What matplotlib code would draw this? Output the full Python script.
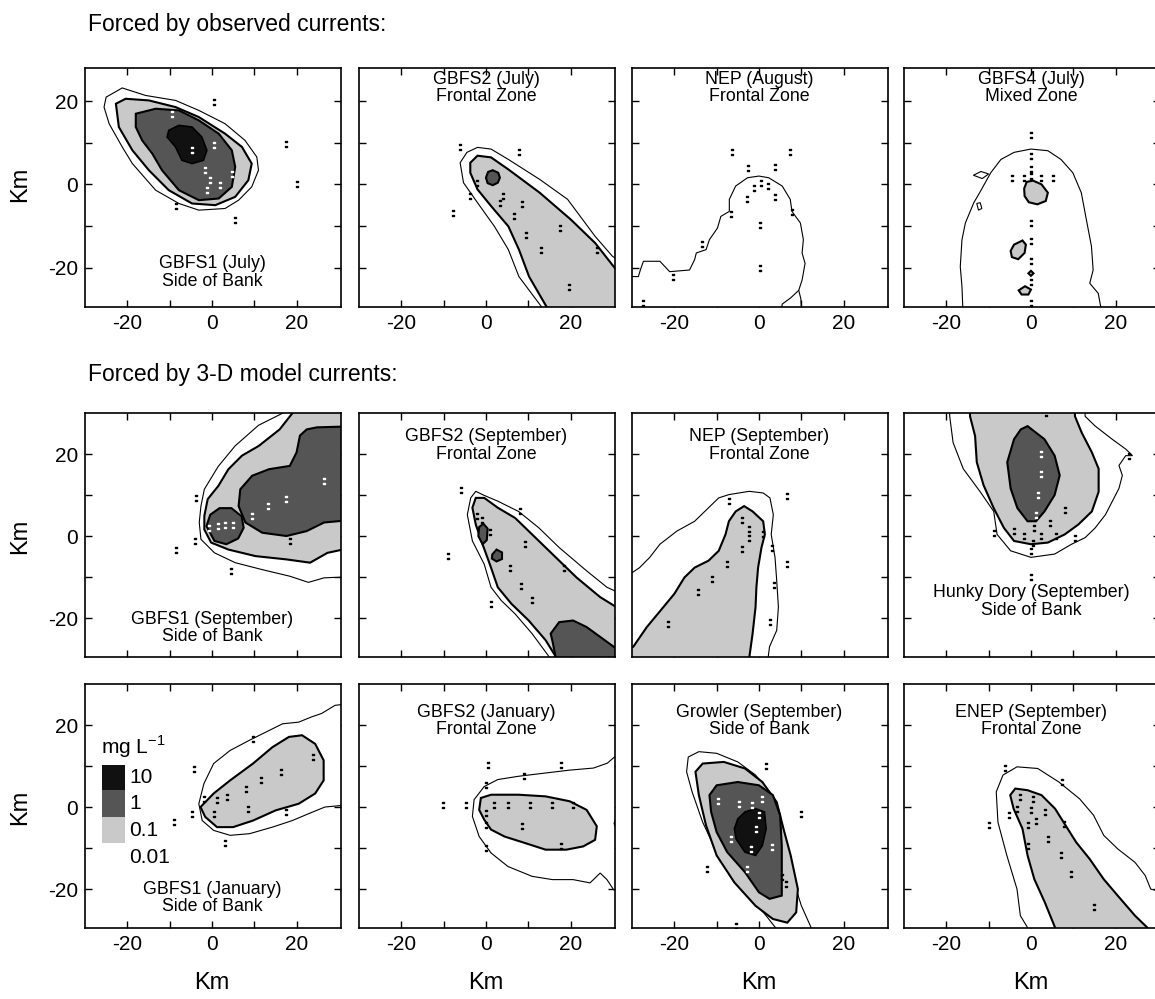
import matplotlib.pyplot as plt
from matplotlib.patches import Rectangle

plt.rcParams['font.family'] = ['Liberation Sans', 'DejaVu Sans']
plt.rcParams['mathtext.fontset'] = 'custom'
plt.rcParams['mathtext.rm'] = 'Liberation Sans'

# contour outlines, km from the release site
# levels: 0.01, 0.1, 1, 10 mg/L

# --- forced by observed currents ---
gbfs1_jul_001 = [[(-25, 21), (-21.2, 23.2), (-15.7, 21.4), (-8.6, 20.2), (-3.1, 17.8), (3.1, 14.6), (7.8, 10.6),
                  (10.6, 6.6), (11, 3.4), (9.4, -0.6), (6.3, -3.8), (3.1, -5.8), (-3.1, -6.2), (-7.8, -4.6),
                  (-13.3, -1.4), (-18.8, 5), (-21.2, 9), (-24.3, 14.6), (-25.5, 18.6)]]
gbfs1_jul_01 = [[(-22.7, 19.4), (-20.4, 20.6), (-14.9, 20.2), (-8.6, 18.6), (-3.1, 16.2), (3.1, 12.2), (7.1, 9),
                 (9.4, 5), (8.6, 1), (5.5, -3), (0.8, -5), (-4.7, -4.6), (-10.2, -1.4), (-14.9, 3.4),
                 (-18.8, 8.2), (-22, 13.8)]]
gbfs1_jul_1 = [[(-18, 17), (-13.3, 18.2), (-7.8, 17.8), (-3.1, 15.4), (1.6, 12.2), (4.7, 8.2), (5.5, 4.2),
                (4.7, -0.6), (1.6, -3.4), (-3.1, -3.8), (-7.8, -1.4), (-11.8, 3.4), (-14.1, 7.4), (-16.5, 10.6),
                (-18, 13.8)]]
gbfs1_jul_10 = [[(-10.2, 13), (-7.8, 14.2), (-4.7, 13.8), (-2.4, 11.4), (-1.2, 8.2), (-2, 5.8), (-4.7, 5),
                 (-7.1, 5.8), (-8.6, 9), (-10.6, 11.4)]]
gbfs1_jul_st = [(0.4, 19.8), (17.4, 9.8), (20.2, 0.2), (5.5, -8.6), (-8.5, -5.3)]
gbfs1_jul_stw = [(-9.4, 17), (-4.7, 8.2), (0.4, 9.4), (-1.6, 3.4), (-0.4, 1), (2, -0.2), (-1.2, -1.4), (4.7, 2.6)]

gbfs2_jul_001 = [[(13.1, -35), (13.1, -29.4), (7.8, -22.2), (5.3, -15.7), (2, -10.1), (-2, -4.4), (-5.3, 0.4),
                  (-6.1, 5.2), (-4.5, 7.7), (-2, 8.9), (1.2, 8.5), (5.3, 6), (12.7, 1.2), (19.3, -3.6),
                  (25.8, -12.5), (29.9, -17.3), (35, -20.6), (35, -35)]]
gbfs2_jul_01 = [[(14.3, -35), (14.3, -29.4), (10.2, -22.2), (7.8, -15.7), (5.3, -10.1), (1.2, -5.2), (-2, -1.2),
                 (-3.7, 2.8), (-3.7, 5.2), (-2, 6.9), (1.2, 6.5), (5.3, 3.6), (12.7, -2), (20.1, -8.5),
                 (25.8, -14.1), (35, -26), (35, -35)]]
gbfs2_jul_1 = [[(0, 1.6), (0.5, 3), (1.6, 3.4), (2.9, 2.8), (3.3, 1.6), (2.8, 0.4), (1.6, -0.2), (0.4, 0.3)]]
gbfs2_jul_st = [(-7.8, -6.9), (-6.1, 8.9), (7.8, 7.8), (26.2, -15.7), (3.3, -4.4), (8.6, -4.8), (6.6, -7.7),
                (9.4, -12.1), (13.1, -15.7), (17.6, -10.5), (19.7, -24.6), (-2, 0.4), (-3.7, -2.8), (4.1, -2.8)]

nep_aug_001 = [[(-35, -22), (-28.5, -22.2), (-28, -20.5), (-27.3, -18.5), (-23.4, -18.5), (-21.1, -21),
                (-16.4, -20.6), (-15.2, -18.1), (-14.8, -16.5), (-12.5, -15.7), (-11.7, -13.3), (-9.8, -10.5),
                (-9, -7.7), (-7, -6.5), (-7, -3.6), (-5.5, -0.4), (-2.7, 1.6), (0, 2), (2.3, 1.6), (5.5, -0.4),
                (7.4, -3.6), (7.8, -6.5), (9.8, -9.3), (10.5, -13.3), (10.2, -16.5), (10.9, -19), (10.2, -23),
                (9.4, -25.5), (7.5, -27.3), (5.5, -28.8), (4.7, -35), (-35, -35)]]
nep_aug_line = [(9.4, -25.5), (9.9, -27.5), (10.2, -33)]
nep_aug_st = [(-6.3, 7.7), (7.4, 7.8), (-2.7, 4), (3.9, 4.3), (-1.2, -0.8), (0.4, 0.4), (2.2, -0.4), (-2.9, -3.5),
              (3.9, -3), (0.2, -9.8), (-6.6, -7.1), (-13.4, -14.4), (-20.3, -22.2), (0.2, -20.2), (7.7, -6.7),
              (-27.5, -28.5)]

gbfs4_jul_001 = [[(-15.9, -35), (-16.3, -24.6), (-16.7, -19.8), (-16.3, -13.3), (-15.5, -9.3), (-13.5, -4.4),
                  (-11.9, -1.6), (-9.5, 2.8), (-7.1, 6), (-4, 7.7), (0, 8.5), (4, 8.1), (7.1, 6), (9.9, 2.8),
                  (11.9, -2), (13.1, -8.5), (14.3, -14.9), (14.7, -20.6), (13.9, -23.8), (15.9, -26.2),
                  (17.5, -35)],
                 [(-13.6, 2.2), (-11.8, 3.1), (-10, 2.5), (-11.5, 1.4)],
                 [(-12.8, -4.6), (-12, -4.4), (-11.6, -5.8), (-12.4, -6.2)]]
gbfs4_jul_01 = [[(-1.6, -1), (-1, 0.6), (0.5, 0.9), (2.5, 0), (4, -2), (3.5, -4), (1.5, -4.8), (-0.5, -4.3),
                 (-1.5, -2.8)],
                [(-4.8, -16), (-4, -14.5), (-2, -13.5), (-1.2, -14.5), (-1.5, -16.5), (-3, -18), (-4.5, -17.5)],
                [(-0.6, -21.4), (0, -20.8), (0.6, -21.4), (0, -22)],
                [(-2.9, -25.5), (-1.4, -24.5), (0, -25.3), (-0.6, -26.5), (-2.2, -26.5)]]
gbfs4_jul_st = [(0, 11.9), (0, 6.9), (0, 3.6), (0, 2), (0, -9.3), (0, -13.7), (0, -18.5), (0, -23.5),
                (-4.4, 1.6), (-1.7, 1.6), (2.4, 1.6), (5.2, 1.6), (0, -28.5)]

# --- forced by 3-D model currents ---
gbfs1_sep_001 = [[(16.8, 35), (16.8, 30), (11, 27), (5.5, 22), (1.5, 17), (-1.8, 11.4), (-2.6, 7.3), (-3, 3.3),
                  (-2.6, -0.8), (0.6, -4.1), (5.5, -6.5), (11.9, -8.2), (18.4, -9.8), (22.8, -11.3),
                  (26.5, -10.2), (35, -9.8), (35, 35)]]
gbfs1_sep_01 = [[(19.2, 35), (19.2, 30.2), (16, 26), (11.1, 22), (7.1, 19.6), (3.9, 16.3), (1.5, 12.2), (-1, 9),
                 (-1.8, 4.9), (-1.8, 1.6), (-0.2, -1.6), (3.9, -3.3), (10.3, -4.9), (17.6, -5.7), (23.2, -6.5),
                 (27.3, -4.1), (35, -2.4), (35, 35)]]
gbfs1_sep_1 = [[(-1.3, 2.4), (-0.4, 5.2), (1.8, 6.8), (4.6, 6.8), (7, 4.8), (7.5, 2), (6.2, -0.6), (3.4, -2),
                (0.6, -1.2)],
               [(35, 26.8), (24.8, 26.5), (22.4, 26), (20.8, 24.5), (20, 20.4), (18.4, 17.1), (13.5, 16.3),
                (9.5, 14.7), (6.7, 11.4), (6.3, 7.3), (7.9, 3.3), (11.9, 0.8), (17.6, 0), (22.4, 1.2),
                (26.5, 3.3), (35, 4.1)]]
gbfs1_sep_st = [(-3.7, 9.3), (-3.9, -1.2), (-8.4, -3.3), (4.6, -8.5), (18.5, -1.2)]
gbfs1_sep_stw = [(-0.7, 2), (1.4, 2.4), (3, 2.6), (5, 2.6), (13.2, 7.3), (17.6, 9.1), (9.5, 4.9), (26.6, 13.4)]

gbfs2_sep_001 = [[(14.9, -35), (14.9, -29.4), (10.9, -23.8), (6.9, -19), (3.6, -15.7), (1.2, -12.5), (-0.4, -6.9),
                  (-3.2, -1.2), (-4.4, 5.2), (-3.6, 9.3), (-2.4, 10.9), (-0.4, 9.9), (2.8, 8.5), (7.7, 6),
                  (12.5, 2), (17.3, -2.8), (23.8, -8.5), (28.6, -12.5), (35, -15.5), (35, -35)]]
gbfs2_sep_01 = [[(16.5, -35), (16.5, -29.4), (14.1, -25.4), (10.1, -20.6), (6, -16.5), (2.8, -12.5), (1.2, -7.7),
                 (-0.8, -2), (-2.4, 2.8), (-3.2, 6.9), (-2.4, 9.3), (-0.4, 9.3), (2.8, 6.9), (6.9, 4.4),
                 (10.9, 0.4), (15.7, -4.4), (21.4, -10.1), (27, -14.9), (35, -20), (35, -35)]]
gbfs2_sep_1 = [[(17.5, -35), (15.8, -26), (15.3, -23.8), (17.3, -21), (20.6, -20.6), (23.8, -22.2), (27, -24.6),
                (30.2, -27), (35, -30), (35, -35)],
               [(-1.8, 0), (-1.6, 2.2), (-0.6, 3), (0.4, 1.8), (0.2, -1), (-0.8, -2)],
               [(1.5, -4.5), (2.5, -3.3), (3.8, -4), (3.8, -5.6), (2.5, -6.2), (1.4, -5.5)]]
gbfs2_sep_st = [(-8.9, -4.8), (-6, 11.3), (8.1, 6), (18.5, -7.7), (1.2, -16.5), (5.6, -7.7), (8.3, -12.1),
                (10.9, -15.7), (9.3, -2), (-2, 5), (-1, 4), (1, 1)]

nep_sep_001 = [[(-35, -9.3), (-30.5, -9.3), (-28.2, -7.7), (-25.8, -5.2), (-23.4, -2), (-19.4, 1.2), (-15.2, 3.6),
                (-11.9, 6.9), (-9.5, 9.3), (-7.1, 10.1), (-2.3, 10.9), (1, 10.5), (2.6, 9.3), (3.4, 5.2),
                (2.9, 0.4), (3.8, -5.2), (4.2, -10.9), (4.6, -17.3), (4.2, -23), (2.5, -27), (1.5, -35),
                (-35, -35)]]
nep_sep_01 = [[(-35, -28), (-29.7, -27), (-26.5, -22.2), (-23.2, -18.1), (-20, -14.1), (-17.6, -10.1),
               (-15.2, -7.7), (-11.9, -6), (-9.5, -3.6), (-7.9, 0.4), (-7.1, 3.6), (-5.5, 6), (-3.5, 7.3),
               (-1.5, 6), (1, 3.6), (1.4, 0.4), (0.6, -2.8), (-0.2, -7.7), (-0.6, -12.5), (-0.8, -17.3),
               (-1.5, -23.8), (-3, -35), (-35, -35)]]
nep_sep_st = [(6.6, 9.7), (6.6, -6.7), (3, -2.8), (3.5, -12), (2.5, -21), (-3.9, 4), (-2.3, 1.6), (-2.3, -0.4),
              (-3.9, -3.2), (-7.5, -6.9), (-11.1, -10.5), (-14.4, -13.7), (-21.6, -21.4), (1, 0.4), (-7, 8.5)]

hunky_sep_001 = [[(-19.2, 35), (-19.2, 29.2), (-18.4, 22.8), (-16, 16.4), (-12, 10.8), (-8.8, 6), (-8, 0.4),
                  (-4.8, -3.6), (0, -5.2), (5.6, -4.4), (9.6, -2), (12.8, -0.4), (15.2, 2), (17.6, 5.2),
                  (19.2, 8.4), (20.8, 11.6), (21.6, 14.8), (20.8, 17.2), (22.4, 19.6), (24, 19.6), (22.4, 21.2),
                  (19.2, 23.6), (15.2, 26.8), (12.8, 29.2), (12.8, 35)]]
hunky_sep_01 = [[(-14.4, 35), (-14.4, 29.2), (-13.2, 24.4), (-12.8, 18), (-11.2, 12.4), (-8.8, 6.8), (-6.4, 2),
                 (-4, -1.2), (0, -2), (4, -1.6), (8, 0.4), (11.2, 2.8), (14.4, 6), (16, 10.8), (16, 16.4),
                 (14.4, 20.4), (12, 25.2), (10.4, 29.2), (10.4, 35)]]
hunky_sep_1 = [[(-0.8, 26.8), (3.2, 23.6), (5.6, 19.6), (6.8, 14.8), (5.6, 10), (3.2, 6), (1.2, 3.6), (-0.8, 3.6),
                (-3.2, 6.8), (-4.8, 11.6), (-5.6, 18), (-4, 23.6), (-2.4, 26)]]
hunky_sep_st = [(3.6, 30), (0, -10), (0, -3.6), (23.2, 19.6), (0.8, 2), (4.4, 3.2), (8, 6.4), (-4, 1.2),
                (-1.6, 0), (2.4, 0), (6, 0), (0.4, -1.6), (10.4, -0.4), (-8.8, 0.8)]
hunky_sep_stw = [(2.4, 20), (2.4, 15.2), (1.6, 10), (1.2, 5.2)]

gbfs1_jan_001 = [[(35, 25.5), (29.1, 24.8), (25.9, 22.8), (23.6, 22), (20.5, 20.7), (16.7, 20.3), (12.8, 18.3),
                  (8.9, 16.3), (4.3, 13.8), (0.4, 10.6), (-1.9, 5.7), (-3.1, 0.8), (-2.3, -3.3), (0.4, -5.7),
                  (4.3, -6.9), (8.9, -6.5), (14.3, -4.9), (19, -3.3), (22.9, -1.6), (26.7, 0), (35, 0.8)]]
gbfs1_jan_01 = [[(-2.7, 0), (0.4, 3.3), (4.3, 6.5), (9.7, 10.6), (14.3, 14.6), (18.2, 17.1), (21.3, 17.5),
                 (24.4, 15.4), (26.4, 11.4), (26.4, 6.5), (24.4, 3.3), (20.5, 0.8), (15.1, -0.8), (9.7, -3.3),
                 (5, -4.9), (1.2, -4.9), (-1.6, -2.4)]]
gbfs1_jan_st = [(-8.9, -3.7), (-4.7, -1.8), (-4.3, 9.2), (3.1, -8.8), (9.7, 16.7), (17.4, -1.2), (-1.9, 2),
                (1.2, 1.6), (0.4, -1.6), (3.5, 2.4), (8.1, 4.5), (11.6, 6.5), (16.3, 8.5), (24, 12.2), (8.5, -0.4)]

gbfs2_jan_001 = [[(35, 14.5), (31.5, 13.2), (28.7, 10.7), (25.4, 9.5), (19.8, 9), (14.1, 8.3), (7.7, 7.5),
                  (2.8, 6.7), (-0.4, 5), (-2.8, 1.8), (-3.2, -2.3), (-1.6, -7.2), (1.2, -11.2), (5.2, -14.5),
                  (10.9, -16.9), (15.7, -17.7), (20.6, -17.7), (24.6, -18.5), (27, -16.1), (28.6, -17.7),
                  (30.2, -20.2), (35, -21)]]
gbfs2_jan_01 = [[(-1.2, 2.2), (1.2, 3), (7.7, 3), (14.1, 2.6), (19.8, 1.4), (23.8, -0.7), (26.2, -4.7),
                 (25.8, -8), (23, -9.6), (19, -10.4), (14.1, -10.4), (9.3, -8.8), (4.4, -7.2), (1.2, -5.5),
                 (-0.4, -3.1), (-1.6, -0.7)],
                [(35, -0.5), (31.2, -1.5), (30.4, -4), (31.2, -6.5), (35, -7.5)]]
gbfs2_jan_st = [(0.4, 10.3), (17.7, 10.3), (-10.2, 0.6), (-4.8, 0.6), (0, 5.4), (8.9, 7.5), (0, -10), (2, 0.6),
                (5.2, 0.6), (10.5, 0.6), (15.7, 0.6), (20.6, 0.6), (0, -1.5), (0, -4.3), (8.5, -4.7),
                (17.7, -9.6)]

growler_sep_001 = [[(4.2, -35), (4.2, -29.8), (1.7, -26.5), (-1.7, -22.4), (-5.8, -17.6), (-10, -11),
                    (-13.3, -3.7), (-15.8, 3.7), (-17.1, 8.6), (-16.7, 12.2), (-14.2, 13.5), (-10, 13.1),
                    (-5, 11), (-0.8, 7.8), (2.5, 3.7), (4.2, -2), (6.7, -10.2), (8.3, -18.4), (10, -24),
                    (12.5, -29.8), (12.5, -35)]]
growler_sep_01 = [[(-15, 8.6), (-13.3, 10.6), (-8.3, 11), (-3.3, 9.4), (0.8, 6.1), (4.2, 1.2), (5.8, -5.3),
                   (7.5, -11.8), (9.2, -20), (8.8, -25.7), (6.7, -28.2), (3.3, -27.3), (-0.8, -24.1),
                   (-5.8, -18.4), (-10, -11.8), (-12.5, -4.5), (-14.2, 2.9)]]
growler_sep_1 = [[(-11.7, 2.9), (-10, 5.3), (-5, 6.1), (0, 5.3), (3.3, 2.9), (5, -2), (5.4, -9.4), (5.4, -21.6),
                  (2.5, -22.4), (0, -20.8), (-3.3, -15.9), (-7.5, -11), (-10, -6.1), (-11.3, -1.2)]]
growler_sep_10 = [[(-5, -2.9), (-3.3, -1.2), (-0.8, -0.4), (1.3, -1.2), (1.7, -5.3), (0.8, -9.4), (-0.8, -11.8),
                   (-3.3, -11), (-5.4, -7.8), (-5.8, -5.3)]]
growler_sep_st = [(1.7, 10), (10, -1.8), (-12.2, -15), (6.3, -18.8), (-5.4, -29), (5.5, -17)]
growler_sep_stw = [(-9.6, 1.4), (-4.8, 0.8), (-1.7, 0.4), (0.7, 1.9), (0, -2), (-0.7, -5.3), (-6.5, -7.8),
                   (-1.8, -10.2), (3.2, -9.8), (-2.9, -15)]

enep_sep_001 = [[(-0.8, -35), (-0.8, -29.4), (-2.5, -26.5), (-3.3, -20), (-5.7, -11.8), (-7.8, -3.7), (-8.2, 3.7),
                 (-6.6, 7.8), (-3.3, 9.8), (1.6, 9.4), (6.6, 6.1), (11.5, 2), (14.8, -2), (17.2, -6.9),
                 (20.5, -10.2), (24.6, -13.5), (27, -16.7), (28.3, -20), (35, -22), (35, -35)]]
enep_sep_01 = [[(5.7, -35), (5.7, -29.4), (3.3, -23.3), (0.8, -17.6), (-0.8, -11.8), (-2, -5.3), (-4.1, -0.4),
                (-4.9, 2.9), (-3.7, 4.5), (-0.8, 4.1), (2.5, 2.9), (5.7, -0.4), (8.2, -4.5), (10.7, -8.6),
                (13.9, -12.7), (17.2, -17.6), (20.5, -21.6), (24.6, -26.5), (27.5, -29.4), (27.5, -35)]]
enep_sep_st = [(-6.1, 9.4), (7.4, 6.1), (-9.8, -4.5), (-5.3, -2), (7.8, -4.1), (-2.5, 2.4), (0.4, 2),
               (-3.3, -0.4), (0, -0.8), (3.3, -1.2), (1.2, -3.3), (-0.8, -4.5), (4.1, -7.8), (7, -11.8),
               (9.4, -16.3), (-0.8, -9.4), (14.8, -24.5)]

# (row, col, label, label y, levels, black stations, white stations)
panels = [
    (0, 0, 'GBFS1 (July)\nSide of Bank', -21.2,
     [gbfs1_jul_001, gbfs1_jul_01, gbfs1_jul_1, gbfs1_jul_10], gbfs1_jul_st, gbfs1_jul_stw),
    (0, 1, 'GBFS2 (July)\nFrontal Zone', 23.2,
     [gbfs2_jul_001, gbfs2_jul_01, gbfs2_jul_1, []], gbfs2_jul_st, []),
    (0, 2, 'NEP (August)\nFrontal Zone', 23.2,
     [nep_aug_001, [], [], []], nep_aug_st, []),
    (0, 3, 'GBFS4 (July)\nMixed Zone', 23.2,
     [gbfs4_jul_001, gbfs4_jul_01, [], []], gbfs4_jul_st, []),
    (1, 0, 'GBFS1 (September)\nSide of Bank', -22.4,
     [gbfs1_sep_001, gbfs1_sep_01, gbfs1_sep_1, []], gbfs1_sep_st, gbfs1_sep_stw),
    (1, 1, 'GBFS2 (September)\nFrontal Zone', 22.0,
     [gbfs2_sep_001, gbfs2_sep_01, gbfs2_sep_1, []], gbfs2_sep_st, []),
    (1, 2, 'NEP (September)\nFrontal Zone', 22.0,
     [nep_sep_001, nep_sep_01, [], []], nep_sep_st, []),
    (1, 3, 'Hunky Dory (September)\nSide of Bank', -16,
     [hunky_sep_001, hunky_sep_01, hunky_sep_1, []], hunky_sep_st, hunky_sep_stw),
    (2, 0, 'GBFS1 (January)\nSide of Bank', -22.2,
     [gbfs1_jan_001, gbfs1_jan_01, [], []], gbfs1_jan_st, []),
    (2, 1, 'GBFS2 (January)\nFrontal Zone', 21,
     [gbfs2_jan_001, gbfs2_jan_01, [], []], gbfs2_jan_st, []),
    (2, 2, 'Growler (September)\nSide of Bank', 21,
     [growler_sep_001, growler_sep_01, growler_sep_1, growler_sep_10], growler_sep_st, growler_sep_stw),
    (2, 3, 'ENEP (September)\nFrontal Zone', 21,
     [enep_sep_001, enep_sep_01, [], []], enep_sep_st, []),
]

level_faces = ['white', '#c9c9c9', '#555555', '#111111']
level_widths = [0.8, 1.5, 1.5, 1.2]
legend_labels = ['10', '1', '0.1', '0.01']

W, H = 1155, 999
col_left = [85, 359, 632, 904]
col_w = 256
row_top = [68, 413, 684]
row_h = [239, 244, 244]
row_ylim = [(-29.5, 28), (-29.5, 30), (-29.5, 30)]

fig = plt.figure(figsize=(W / 100, H / 100), dpi=100)

for row, col, label, label_y, levels, st_k, st_w in panels:
    ax = fig.add_axes([col_left[col] / W, 1 - (row_top[row] + row_h[row]) / H, col_w / W, row_h[row] / H])
    for polys, face, lw in zip(levels, level_faces, level_widths):
        for poly in polys:
            xs, ys = zip(*poly)
            ax.fill(xs, ys, facecolor=face, edgecolor='black', linewidth=lw, zorder=2)
    if row == 0 and col == 2:
        xs, ys = zip(*nep_aug_line)
        ax.plot(xs, ys, color='black', lw=0.8, zorder=2)
    if st_k:
        xs, ys = zip(*st_k)
        ax.plot(xs, ys, ls='none', marker='$:$', ms=5, color='black', zorder=3)
    if st_w:
        xs, ys = zip(*st_w)
        ax.plot(xs, ys, ls='none', marker='$:$', ms=5, color='white', zorder=3)
    ax.text(0, label_y, label, ha='center', va='center', fontsize=12.8, linespacing=1.05, zorder=4)

    ax.set_xlim(-30, 30.5)
    ax.set_ylim(*row_ylim[row])
    ax.set_xticks([-20, -10, 0, 10, 20])
    ax.set_yticks([-20, -10, 0, 10, 20])
    ax.set_xticklabels(['-20', '', '0', '', '20'] if row != 1 else [''] * 5)
    ax.set_yticklabels(['-20', '', '0', '', '20'] if col == 0 else [''] * 5)
    ax.tick_params(direction='in', top=True, right=True, length=5, width=1, labelsize=15, pad=5)
    for sp in ax.spines.values():
        sp.set_linewidth(1.2)

    if row == 2 and col == 0:
        # concentration key
        ys_key = [10.2, 4.1, -2.4, -8.8]
        for face, y0, y1 in zip(level_faces[:0:-1], ys_key[:-1], ys_key[1:]):
            ax.add_patch(Rectangle((-26, y1), 5.4, y0 - y1, facecolor=face, edgecolor='none', zorder=4))
        for txt, y in zip(legend_labels, [7.3, 0.8, -5.7, -12.2]):
            ax.text(-19.6, y, txt, ha='left', va='center', fontsize=15, zorder=4)
        ax.text(-26.3, 14.8, 'mg L$^{\\mathregular{-1}}$', ha='left', va='center', fontsize=15, zorder=4)

    if col == 0:
        fig.text(20 / W, 1 - (row_top[row] + row_h[row] * row_ylim[row][1] / (row_ylim[row][1] - row_ylim[row][0])) / H,
                 'Km', rotation=90, ha='center', va='center', fontsize=17)
    if row == 2:
        fig.text((col_left[col] + col_w * 30 / 60.5) / W, 16 / H, 'Km', ha='center', va='center', fontsize=17)

fig.text(88 / W, 1 - 24 / H, 'Forced by observed currents:', ha='left', va='center', fontsize=16.5)
fig.text(88 / W, 1 - 374 / H, 'Forced by 3-D model currents:', ha='left', va='center', fontsize=16.5)

fig.savefig('out.png', dpi=100)
